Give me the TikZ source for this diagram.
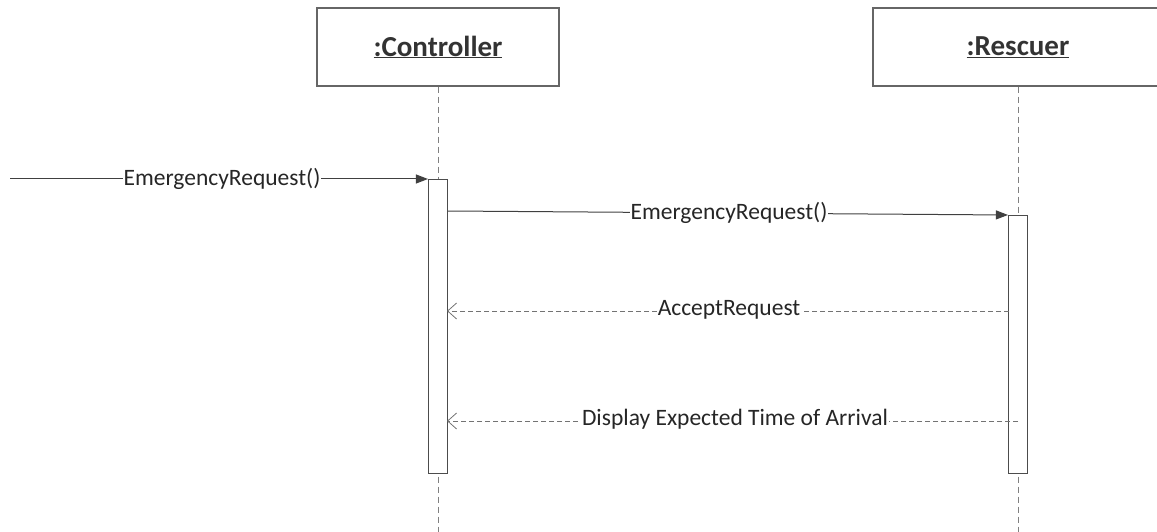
\documentclass[tikz,border=0pt]{standalone}
\usepackage{fontspec}
\setmainfont{Carlito}
\usetikzlibrary{arrows.meta}
\begin{document}
\begin{tikzpicture}[x=1pt,y=-1pt,
  obj/.style={draw=black!60, line width=1.3pt, fill=white, minimum height=78pt,
    inner sep=0pt, font=\fontsize{29}{34}\selectfont\bfseries, text=black!80},
  lifeline/.style={draw=black!50, line width=0.8pt, dash pattern=on 6pt off 4pt},
  act/.style={draw=black!70, fill=white, line width=1.1pt, minimum width=19pt, inner sep=0pt},
  msg/.style={draw=black!75, line width=1pt, -{Triangle[length=12pt,width=9pt]}},
  ret/.style={draw=black!55, line width=0.8pt, dash pattern=on 5pt off 3pt,
    -{Straight Barb[length=9pt,width=16pt,line width=0.8pt]}},
  lbl/.style={fill=white, inner sep=1pt, font=\fontsize{23.5}{28}\selectfont, text=black!85}
]
\useasboundingbox (0,0) rectangle (1157,532);

% participants
\node[obj, minimum width=242pt] (ctrl) at (438,47) {\underline{:Controller}};
\node[obj, minimum width=290pt] (resc) at (1018,47) {\underline{:Rescuer}};

% lifelines
\coordinate (ctrlEnd) at (438,532);
\coordinate (rescEnd) at (1018,532);
\draw[lifeline] (ctrl.south) -- (ctrlEnd);
\draw[lifeline] (resc.south) -- (rescEnd);

% activation bars
\node[act, minimum height=294pt, anchor=north] (actC) at (438,179) {};
\node[act, minimum height=258pt, anchor=north] (actR) at (1018,215) {};

% incoming found message
\coordinate (src) at (10,179);
\coordinate (c1) at (actC.north west);
\draw[msg] (src) -- (c1);
\node[lbl] (m1) at (222,179) {EmergencyRequest()};

% Controller -> Rescuer
\coordinate (c2) at ([yshift=-32pt]actC.north east);
\coordinate (r2) at (actR.north west);
\draw[msg] (c2) -- (r2);
\node[lbl] (m2) at (729,213) {EmergencyRequest()};

% replies
\coordinate (r3) at (1009,311);
\coordinate (c3) at (447,311);
\draw[ret] (r3) -- (c3);
\node[lbl] (m3) at (729,310) {AcceptRequest};

\coordinate (r4) at (1018,421);
\coordinate (c4) at (447,421);
\draw[ret] (r4) -- (c4);
\node[lbl] (m4) at (735,419) {Display Expected Time of Arrival};
\end{tikzpicture}
\end{document}
